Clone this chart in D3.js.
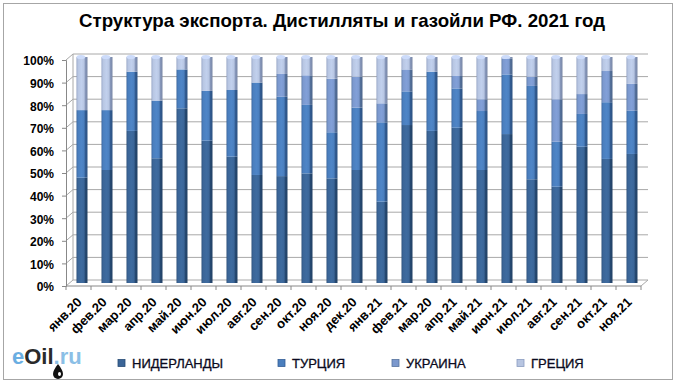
<!DOCTYPE html>
<html>
<head>
<meta charset="utf-8">
<script src="https://cdn.jsdelivr.net/npm/d3@7"></script>
<style>
  body { margin: 0; background: #fff; }
  svg { display: block; font-family: Arial, "Liberation Sans", sans-serif; }
</style>
</head>
<body>
<div id="chart"></div>
<script>
// month labels (the second "мар.20" is as in the source)
const months = ['янв.20', 'фев.20', 'мар.20', 'апр.20', 'май.20', 'июн.20', 'июл.20', 'авг.20',
    'сен.20', 'окт.20', 'ноя.20', 'дек.20', 'янв.21', 'фев.21', 'мар.20', 'апр.21', 'май.21',
    'июн.21', 'июл.21', 'авг.21', 'сен.21', 'окт.21', 'ноя.21'];

const seriesNames = ['НИДЕРЛАНДЫ', 'ТУРЦИЯ', 'УКРАИНА', 'ГРЕЦИЯ'];

// shares, % of the month's export
const netherlands = [46.6, 50, 67.3, 55.2, 77.3, 63, 55.9, 47.8, 47.3, 48.5, 46.3, 50, 36, 69.9, 67.3, 68.7, 50, 65.9, 45.9, 42.6, 60.3, 54.9, 57.1];
const turkey = [29.9, 26.5, 26.2, 25.5, 17.2, 22, 29.5, 40.9, 35.1, 30.3, 20.4, 27.6, 35.1, 14.9, 26.2, 17.4, 26.1, 26.4, 41.3, 19.9, 14.5, 25.1, 19.1];
const ukraine = [0, 0, 0, 0, 0, 0, 0, 0, 10.1, 13.1, 23.7, 13.7, 8.4, 9.7, 0, 5.5, 5.2, 7.1, 4.1, 18.8, 8.8, 13.8, 11.9];
const greece = [23.5, 23.5, 6.5, 19.3, 5.5, 15, 14.6, 11.3, 7.5, 8.1, 9.6, 8.7, 20.5, 5.5, 6.5, 8.4, 18.7, 0.6, 8.7, 18.7, 16.4, 6.2, 11.9];

const yTicks = [0, 0.1, 0.2, 0.3, 0.4, 0.5, 0.6, 0.7, 0.8, 0.9, 1];

const colors = ['#3b6597', '#4a7ebd', '#7b98cd', '#b7c5e1'];
const darker = ['#274b75', '#335e96', '#56739f', '#8b9cc0'];

const W = 680, H = 384;
const depth = { dx: 7, dy: -6 };

const svg = d3.select('#chart').append('svg')
    .attr('width', W)
    .attr('height', H);

// chart frame
svg.append('rect')
    .attr('x', 3.5).attr('y', 3.5)
    .attr('width', 669).attr('height', 376)
    .attr('fill', '#fff')
    .attr('stroke', '#a6a6a6');

svg.append('text')
    .attr('x', 342).attr('y', 27)
    .attr('text-anchor', 'middle')
    .attr('font-family', '"Liberation Sans Narrow", "Arial Narrow", Arial, sans-serif')
    .attr('font-weight', 'bold')
    .attr('font-size', 19)
    .attr('textLength', 526)
    .attr('lengthAdjust', 'spacingAndGlyphs')
    .attr('fill', '#000')
    .text('Структура экспорта. Дистилляты и газойли РФ. 2021 год');

// scales
const x = d3.scaleBand()
    .domain(d3.range(months.length))
    .range([66, 641])
    .paddingInner(0.56)
    .paddingOuter(0.28);

const y = d3.scaleLinear().domain([0, 1]).range([286, 60]);

// back wall gridlines
const grid = svg.append('g').attr('stroke', '#a8a8a8').attr('fill', 'none');
grid.selectAll('line.h')
    .data(yTicks)
    .join('line')
    .attr('x1', 66 + depth.dx).attr('x2', 641 + depth.dx)
    .attr('y1', d => y(d) + depth.dy).attr('y2', d => y(d) + depth.dy);
grid.selectAll('line.d')
    .data(yTicks)
    .join('line')
    .attr('x1', 66).attr('x2', 66 + depth.dx)
    .attr('y1', d => y(d)).attr('y2', d => y(d) + depth.dy);
grid.append('line')
    .attr('x1', 66 + depth.dx).attr('x2', 66 + depth.dx)
    .attr('y1', y(0) + depth.dy).attr('y2', y(1) + depth.dy);
// floor
grid.append('line')
    .attr('x1', 641).attr('x2', 641 + depth.dx)
    .attr('y1', y(0)).attr('y2', y(0) + depth.dy);

// stacked bars
const table = months.map((m, i) => ({
    i: i,
    'НИДЕРЛАНДЫ': netherlands[i],
    'ТУРЦИЯ': turkey[i],
    'УКРАИНА': ukraine[i],
    'ГРЕЦИЯ': greece[i]
}));
const stacked = d3.stack()
    .keys(seriesNames)
    .offset(d3.stackOffsetExpand)(table);

const defs = svg.append('defs');
seriesNames.forEach((s, k) => {
    const g = defs.append('linearGradient')
        .attr('id', 'g' + k)
        .attr('x1', 0).attr('x2', 1).attr('y1', 0).attr('y2', 0);
    g.append('stop').attr('offset', '0%').attr('stop-color', darker[k]);
    g.append('stop').attr('offset', '12%').attr('stop-color', colors[k]);
    g.append('stop').attr('offset', '45%').attr('stop-color', d3.color(colors[k]).brighter(0.15));
    g.append('stop').attr('offset', '72%').attr('stop-color', colors[k]);
    g.append('stop').attr('offset', '74%').attr('stop-color', darker[k]);
    g.append('stop').attr('offset', '100%').attr('stop-color', d3.color(darker[k]).darker(0.4));
});

const bw = x.bandwidth();
const shift = { dx: depth.dx / 2, dy: depth.dy / 2 };

const layers = svg.append('g').attr('class', 'bars')
    .attr('transform', `translate(${shift.dx},${shift.dy})`);

layers.selectAll('g')
    .data(stacked)
    .join('g')
    .attr('fill', (d, k) => `url(#g${k})`)
    .selectAll('rect')
    .data(d => d)
    .join('rect')
    .attr('x', d => x(d.data.i))
    .attr('y', d => y(d[1]))
    .attr('width', bw)
    .attr('height', d => Math.max(0, y(d[0]) - y(d[1])));

// top caps of the columns
const topSeries = months.map((m, i) => {
    let k = seriesNames.length - 1;
    while (k > 0 && stacked[k][i][1] - stacked[k][i][0] < 0.005) k--;
    return k;
});
layers.selectAll('ellipse.cap')
    .data(d3.range(months.length))
    .join('ellipse')
    .attr('class', 'cap')
    .attr('cx', i => x(i) + bw * 0.4)
    .attr('cy', y(1))
    .attr('rx', bw * 0.4)
    .attr('ry', 2)
    .attr('fill', i => d3.color(colors[topSeries[i]]).brighter(0.3));

// y axis
const yAxis = svg.append('g')
    .attr('transform', 'translate(66,0)')
    .call(d3.axisLeft(y).tickValues(yTicks).tickFormat(d3.format('.0%')).tickSize(4).tickPadding(8));
yAxis.select('.domain').attr('stroke', '#888');
yAxis.selectAll('.tick line').attr('stroke', '#888');
yAxis.selectAll('.tick text')
    .attr('font-size', 12)
    .attr('font-weight', 'bold')
    .attr('font-family', 'Arial, "Liberation Sans", sans-serif')
    .attr('fill', '#000')
    .attr('dy', '0.4em');

// x axis (front floor edge and category ticks)
const step = x.step();
const xBase = svg.append('g').attr('stroke', '#888');
xBase.append('line')
    .attr('x1', 66).attr('x2', 641)
    .attr('y1', y(0)).attr('y2', y(0));
xBase.selectAll('line.t')
    .data(d3.range(months.length + 1))
    .join('line')
    .attr('x1', i => x.range()[0] + i * step)
    .attr('x2', i => x.range()[0] + i * step)
    .attr('y1', y(0)).attr('y2', y(0) + 4);

svg.append('g')
    .selectAll('text')
    .data(months)
    .join('text')
    .attr('transform', (d, i) => `translate(${x(i) + bw / 2 + 4},${y(0) + 17}) rotate(-45)`)
    .attr('text-anchor', 'end')
    .attr('font-size', 13)
    .attr('font-weight', 'bold')
    .attr('fill', '#000')
    .text(d => d);

// legend
const legendX = [118, 278, 392, 517];
const legend = svg.append('g')
    .selectAll('g')
    .data(seriesNames)
    .join('g')
    .attr('transform', (d, k) => `translate(${legendX[k]},363)`);
legend.append('rect')
    .attr('x', 0).attr('y', -3.5)
    .attr('width', 7).attr('height', 7)
    .attr('fill', (d, k) => colors[k])
    .attr('stroke', (d, k) => darker[k])
    .attr('stroke-width', 0.8);
legend.append('text')
    .attr('x', 14).attr('y', 0)
    .attr('dy', '0.36em')
    .attr('font-size', 13)
    .attr('fill', '#0a0a20')
    .attr('stroke', '#0a0a20')
    .attr('stroke-width', 0.3)
    .text(d => d);

// eOil.ru logo
const logo = svg.append('text')
    .attr('x', 12).attr('y', 364)
    .attr('font-size', 22)
    .attr('font-weight', 'bold')
    .attr('font-family', 'Arial, "Liberation Sans", sans-serif');
logo.append('tspan').attr('fill', '#6aaee2').text('e');
logo.append('tspan').attr('fill', '#2a2a2a').text('Oil');
logo.append('tspan').attr('fill', '#8bbfe6').text('.ru');
svg.append('path')
    .attr('d', 'M58,364 C55,368 53,371 53,374 A5,5 0 0 0 63,374 C63,371 61,368 58,364 Z')
    .attr('fill', '#111');
svg.append('ellipse')
    .attr('cx', 59.5).attr('cy', 374).attr('rx', 1.5).attr('ry', 2)
    .attr('fill', '#fff');
</script>
</body>
</html>
